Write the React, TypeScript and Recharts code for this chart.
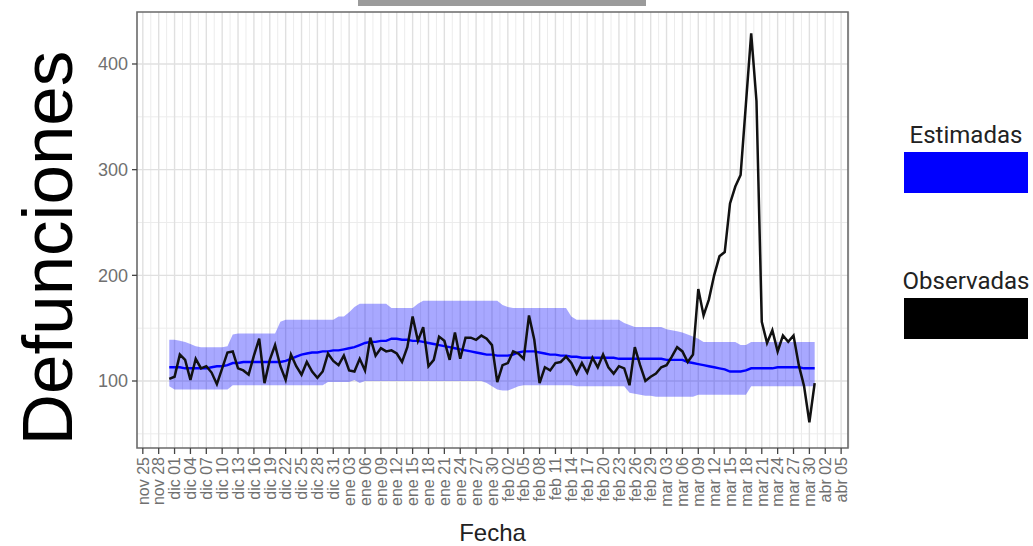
import { ComposedChart, Area, Line, XAxis, YAxis, CartesianGrid, ReferenceArea, Label } from 'recharts';

// días desde el 30 de noviembre (día 0) hasta el 31 de marzo (día 122)
const observadas = [
  102, 104, 125, 120, 101, 121, 112, 114, 108, 97,
  112, 127, 128, 112, 110, 106, 124, 140, 98, 120,
  134, 114, 101, 125, 114, 106, 118, 109, 103, 109,
  126, 119, 115, 124, 110, 109, 121, 110, 141, 124,
  131, 128, 129, 126, 118, 132, 161, 138, 151, 114,
  120, 142, 138, 120, 146, 121, 141, 141, 139, 143,
  140, 134, 99, 115, 117, 128, 126, 121, 162, 139,
  98, 113, 110, 117, 118, 123, 117, 107, 117, 108,
  122, 113, 125, 113, 107, 114, 112, 96, 132, 115,
  100, 104, 107, 113, 115, 123, 132, 128, 118, 125,
  187, 162, 177, 200, 218, 222, 268, 284, 295, 362,
  429, 365, 156, 136, 148, 128, 143, 137, 143, 115,
  95, 61, 98,
];

const estimadas = [
  113, 113, 113, 112, 112, 112, 112, 112, 113, 114,
  114, 115, 117, 117, 118, 118, 118, 118, 118, 118,
  118, 118, 119, 121, 123, 125, 126, 127, 127, 128,
  128, 129, 129, 130, 131, 132, 134, 136, 137, 137,
  138, 138, 140, 140, 139, 139, 138, 138, 137, 136,
  135, 134, 133, 132, 131, 130, 129, 128, 127, 126,
  125, 125, 124, 124, 124, 125, 127, 128, 128, 128,
  127, 126, 125, 125, 124, 124, 123, 123, 122, 122,
  122, 122, 122, 122, 122, 121, 121, 121, 121, 121,
  121, 121, 121, 121, 120, 120, 120, 120, 118, 117,
  116, 115, 114, 113, 112, 111, 109, 109, 109, 110,
  112, 112, 112, 112, 112, 113, 113, 113, 113, 113,
  112, 112, 112,
];

const limiteSuperior = [
  139, 139, 138, 137, 135, 133, 132, 132, 132, 132,
  132, 133, 144, 145, 145, 145, 145, 145, 145, 145,
  145, 156, 158, 158, 158, 158, 158, 158, 158, 158,
  158, 158, 161, 161, 165, 170, 173, 173, 173, 173,
  173, 173, 169, 169, 169, 169, 169, 173, 176, 176,
  176, 176, 176, 176, 176, 176, 176, 176, 176, 176,
  176, 176, 176, 172, 170, 169, 169, 169, 169, 169,
  169, 169, 169, 169, 169, 169, 161, 158, 158, 158,
  158, 158, 158, 158, 158, 158, 155, 153, 151, 151,
  151, 151, 151, 151, 149, 148, 147, 146, 144, 142,
  140, 137, 137, 137, 137, 137, 137, 137, 134, 134,
  137, 137, 137, 137, 137, 137, 137, 137, 137, 137,
  137, 137, 137,
];

const limiteInferior = [
  95, 92, 92, 92, 92, 92, 92, 92, 92, 92,
  92, 92, 96, 96, 96, 96, 96, 96, 96, 96,
  96, 96, 96, 96, 96, 96, 96, 96, 96, 96,
  99, 99, 99, 99, 99, 101, 98, 100, 100, 100,
  100, 100, 100, 100, 100, 100, 100, 100, 100, 100,
  100, 100, 100, 100, 100, 100, 100, 100, 100, 100,
  98, 95, 92, 91, 91, 93, 95, 96, 96, 96,
  96, 96, 96, 96, 96, 96, 96, 95, 95, 95,
  95, 95, 95, 95, 95, 95, 95, 89, 88, 87,
  86, 86, 85, 85, 85, 85, 85, 85, 85, 85,
  87, 87, 87, 87, 87, 87, 87, 87, 87, 87,
  95, 95, 95, 95, 95, 95, 95, 95, 95, 95,
  95, 95, 95,
];

// etiquetas cada 3 días, la primera (nov 25) es el día -5
const etiquetasFecha = [
  'nov 25', 'nov 28', 'dic 01', 'dic 04', 'dic 07', 'dic 10', 'dic 13', 'dic 16', 'dic 19', 'dic 22',
  'dic 25', 'dic 28', 'dic 31', 'ene 03', 'ene 06', 'ene 09', 'ene 12', 'ene 15', 'ene 18', 'ene 21',
  'ene 24', 'ene 27', 'ene 30', 'feb 02', 'feb 05', 'feb 08', 'feb 11', 'feb 14', 'feb 17', 'feb 20',
  'feb 23', 'feb 26', 'feb 29', 'mar 03', 'mar 06', 'mar 09', 'mar 12', 'mar 15', 'mar 18', 'mar 21',
  'mar 24', 'mar 27', 'mar 30', 'abr 02', 'abr 05',
];
const primerTick = -5;

const yTicks = [100, 200, 300, 400];
const yMinor = [50, 150, 250, 350];

const data = observadas.map((v, i) => ({
  dia: i,
  observadas: v,
  estimadas: estimadas[i],
  banda: [limiteInferior[i], limiteSuperior[i]],
}));

const xTicks = etiquetasFecha.map((_, i) => primerTick + i * 3);
const xMinor = xTicks.map((t) => t + 1.5);
const xDomain = [-6.1, 128.3];
const yDomain = [36.6, 449.2];

const FONT = '"Liberation Sans", Arial, Helvetica, sans-serif';

const DateTick = (props: any) => {
  const { x, y, payload } = props;
  const label = etiquetasFecha[(payload.value - primerTick) / 3];
  return (
    <text x={x} y={y} transform={`rotate(-90, ${x}, ${y})`} textAnchor="end" dy="0.36em" fontSize={16} fill="#707070" fontFamily={FONT}>
      {label}
    </text>
  );
};

const YTitle = (props: any) => {
  const vb = props.viewBox || { x: 0, y: 12, width: 137, height: 436 };
  const cx = vb.x + 72;
  const cy = 248;
  return (
    <text x={cx} y={cy} transform={`rotate(-90, ${cx}, ${cy})`} textAnchor="middle" fontSize={71} fill="#000" fontFamily={FONT}>
      Defunciones
    </text>
  );
};

const XTitle = (props: any) => {
  const vb = props.viewBox || { x: 137, y: 448, width: 711, height: 98 };
  return (
    <text x={vb.x + vb.width / 2} y={vb.y + 93} textAnchor="middle" fontSize={24} fill="#222" fontFamily={FONT}>
      Fecha
    </text>
  );
};

export default function App() {
  return (
    <div style={{ position: 'absolute', left: 0, top: 0, width: 1033, height: 546, background: '#fff' }}>
      <div style={{ position: 'absolute', left: 358, top: 0, width: 288, height: 6, background: '#9b9b9b' }} />
      <ComposedChart width={1033} height={546} data={data} margin={{ top: 12, right: 185, bottom: 0, left: 0 }}>
        <CartesianGrid verticalValues={xMinor} horizontalValues={yMinor} stroke="#ececec" strokeWidth={1} />
        <CartesianGrid verticalValues={xTicks} horizontalValues={yTicks} stroke="#e0e0e0" strokeWidth={1.4} />
        <XAxis
          dataKey="dia"
          type="number"
          domain={xDomain}
          allowDataOverflow
          ticks={xTicks}
          interval={0}
          height={98}
          tickSize={6}
          tickMargin={3}
          axisLine={false}
          tickLine={{ stroke: '#444', strokeWidth: 1.3 }}
          tick={<DateTick />}
        >
          <Label content={<XTitle />} />
        </XAxis>
        <YAxis
          type="number"
          domain={yDomain}
          allowDataOverflow
          ticks={yTicks}
          width={137}
          tickSize={5}
          tickMargin={4}
          axisLine={false}
          tickLine={{ stroke: '#444', strokeWidth: 1.3 }}
          tick={{ fontSize: 18, fill: '#707070', fontFamily: FONT }}
        >
          <Label content={<YTitle />} />
        </YAxis>
        <Area dataKey="banda" type="linear" stroke="none" fill="#0000ff" fillOpacity={0.34} isAnimationActive={false} />
        <Line dataKey="estimadas" type="linear" stroke="#0000ff" strokeWidth={2.4} dot={false} isAnimationActive={false} />
        <Line dataKey="observadas" type="linear" stroke="#111" strokeWidth={2.5} dot={false} isAnimationActive={false} />
        <ReferenceArea x1={xDomain[0]} x2={xDomain[1]} y1={yDomain[0]} y2={yDomain[1]} fill="none" stroke="#6a6a6a" strokeWidth={1.6} />
      </ComposedChart>
      <div style={{ position: 'absolute', left: 904, top: 121, width: 124, textAlign: 'center', fontFamily: 'Roboto, sans-serif', fontSize: 24, color: '#222', lineHeight: '28px' }}>
        Estimadas
      </div>
      <div style={{ position: 'absolute', left: 904, top: 152, width: 124, height: 41, background: '#0000ff' }} />
      <div style={{ position: 'absolute', left: 896, top: 267, width: 140, textAlign: 'center', fontFamily: 'Roboto, sans-serif', fontSize: 24, color: '#222', lineHeight: '28px' }}>
        Observadas
      </div>
      <div style={{ position: 'absolute', left: 904, top: 298, width: 124, height: 41, background: '#000' }} />
    </div>
  );
}
